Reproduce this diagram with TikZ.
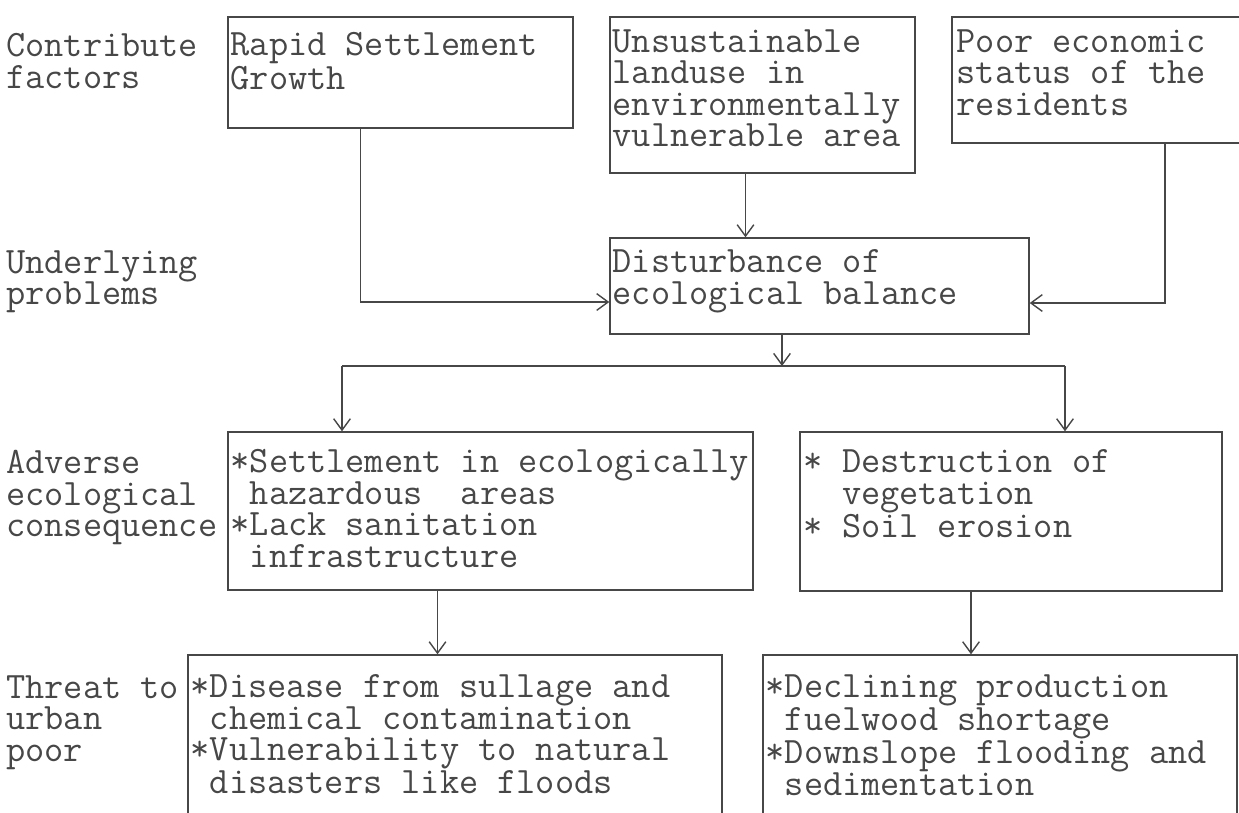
\documentclass[tikz,border=0pt]{standalone}
\usepackage{fontspec}
\usetikzlibrary{arrows.meta,fit}

\colorlet{ink}{black!72}

\tikzset{
  box/.style={draw=ink, line width=0.8pt, inner sep=0pt},
  txt/.style={anchor=north west, align=left, inner sep=0pt, text=ink,
    font=\ttfamily\fontsize{21.2}{17.9}\selectfont,
    execute at begin node=\rule{0pt}{14pt}},
  line/.style={draw=ink, line width=0.8pt},
  link/.style={line, -{Straight Barb[length=6.5pt,width=9.5pt]}}
}

\begin{document}
\begin{tikzpicture}[x=0.02cm, y=-0.02cm]
\useasboundingbox (0,0) rectangle (1239,812);

% row labels
\foreach \n/\y/\t in {contrib/33/{Contribute\\factors},
                      under/250/{Underlying\\problems},
                      adverse/450/{Adverse\\ecological\\consequence},
                      threat/675/{Threat to\\urban\\poor}}
    \node[txt] (\n) at (6,\y) {\t};

% boxes
\node[box, fit={(228,17) (573,128)}]   (rapid)   {};
\node[box, fit={(610,17) (915,173)}]   (landuse) {};
\node[box, fit={(952,17) (1260,143)}]  (poor)    {};
\node[box, fit={(610,238) (1029,334)}] (disturb) {};
\node[box, fit={(228,432) (753,590)}]  (hazard)  {};
\node[box, fit={(800,432) (1222,591)}] (erosion) {};
\node[box, fit={(188,655) (722,830)}]  (disease) {};
\node[box, fit={(763,655) (1237,830)}] (decline) {};

\node[txt] (rapidtxt) at ([shift={(3,16)}]rapid.north west) {Rapid Settlement\\Growth};
\node[txt] (landtxt) at ([shift={(3,13)}]landuse.north west)
    {Unsustainable\\landuse in\\environmentally\\vulnerable area};
\node[txt] (poortxt) at ([shift={(5,13)}]poor.north west) {Poor economic\\status of the\\residents};
\node[txt] (disttxt) at ([shift={(3,12)}]disturb.north west) {Disturbance of\\ecological balance};
\node[txt] (hazardtxt) at ([shift={(3,18)}]hazard.north west)
    {*Settlement in ecologically\\~hazardous~ areas\\*Lack sanitation\\~infrastructure};
\node[txt] (erosiontxt) at ([shift={(4,18)}]erosion.north west)
    {* Destruction of\\~~vegetation\\* Soil erosion};
\node[txt] (diseasetxt) at ([shift={(3,20)}]disease.north west)
    {*Disease from sullage and\\~chemical contamination\\*Vulnerability to natural\\~disasters like floods};
\node[txt] (declinetxt) at ([shift={(3,20)}]decline.north west)
    {*Declining production\\~fuelwood shortage\\*Downslope flooding and\\~sedimentation};

% connectors
\coordinate (aout) at ([shift={(-40,0)}]rapid.south);
\coordinate (bout) at ([shift={(-17,0)}]landuse.south);
\coordinate (cout) at ([shift={(59,0)}]poor.south);
\coordinate (split) at (782,366);
\coordinate (splitL) at (342,366);
\coordinate (splitR) at (1065,366);
\coordinate (eout) at ([shift={(-53,0)}]hazard.south);
\coordinate (fout) at ([shift={(-40,0)}]erosion.south);

\draw[link] (aout) |- ([shift={(0,16)}]disturb.west);
\draw[link] (bout) -- (bout |- disturb.north);
\draw[link] (cout) |- ([shift={(0,17)}]disturb.east);
\draw[link] (disturb.south -| split) -- (split);
\draw[line] (splitL) -- (splitR);
\draw[link] (splitL) -- (splitL |- hazard.north);
\draw[link] (splitR) -- (splitR |- erosion.north);
\draw[link] (eout) -- (eout |- disease.north);
\draw[link] (fout) -- (fout |- decline.north);

\end{tikzpicture}
\end{document}
